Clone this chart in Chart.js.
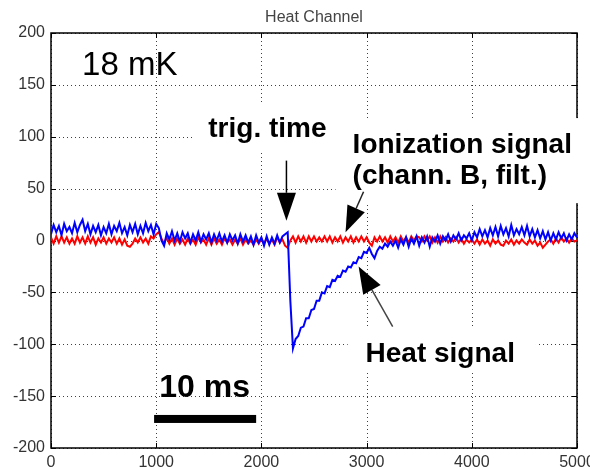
<!DOCTYPE html>
<html>
<head>
<meta charset="utf-8">
<script src="https://cdn.jsdelivr.net/npm/chart.js@4"></script>
<style>
  html, body { margin: 0; padding: 0; background: #fff; }
  #wrap { width: 590px; height: 467px; }
</style>
</head>
<body>
<div id="wrap"><canvas id="heatChart" width="590" height="467"></canvas></div>
<script>
// sampling interval of both traces (time units)
const sampleStep = 25;
const xTicks = [0, 1000, 2000, 3000, 4000, 5000];
const yTicks = [-200, -150, -100, -50, 0, 50, 100, 150, 200];

// heat channel (blue), every 25 units
const heatSignal = [
  6, 15, 8, 14, 5, 16, 9, 13, 7, 17, 8, 15, 20, 9, 16, 6, 14, 8, 15, 5,
  13, 7, 16, 6, 14, 9, 17, 7, 13, 5, 15, 8, 16, 6, 14, 7, 17, 9, 15, 6,
  16, 12, 0, -5, 7, 1, 9, 0, 7, -1, 8, 2, 7, -2, 6, 0, 8, -1, 6, 1,
  7, -2, 6, 0, 7, -1, 5, -2, 6, 0, 5, -3, 6, -1, 5, -2, 4, -4, 5, -2,
  3, -5, 4, -4, 3, -3, 5, -2, 4, 6, 8, -58, -104, -95, -92, -84, -83, -75, -75, -67,
  -66, -58, -58, -50, -51, -44, -45, -38, -39, -34, -35, -29, -30, -25, -26, -21, -22, -16, -17, -11,
  -12, -7, -13, -17, -10, -6, -8, -3, -6, -1, -5, 0, -7, 1, -4, 3, -6, 2, -3, 4,
  -5, 3, -2, 4, -6, 3, -1, 5, -3, 4, 0, 6, -1, 5, 1, 7, 0, 5, 2, 7,
  0, 8, 3, 11, 4, 10, 3, 12, 5, 13, 4, 14, 6, 12, 4, 15, 5, 11, 6, 13,
  5, 14, 4, 11, 3, 10, 2, 9, 1, 8, 0, 7, 1, 8, 2, 7, 0, 6, 1, 7,
  3
];

// ionization channel B, filtered (red)
const ionSignal = [
  3, -3, 4, -2, 4, -2, 3, -3, 2, -3, 4, -2, 3, -3, 4, -2, 3, -4, 2, -2,
  3, -3, 2, -2, 3, -3, 2, -4, 1, -5, -6, -3, 2, -2, 3, -2, 2, -3, 4, 2,
  6, 8, 2, -3, 3, -3, 2, -4, 2, -3, 1, -4, 2, -3, 1, -4, 3, -2, 1, -4,
  2, -4, 2, -3, 1, -4, 2, -2, 1, -4, 1, -3, 2, -4, 1, -3, 0, -4, 1, -3,
  2, -3, 2, -3, 1, -4, 3, -2, 1, -5, -7, 0, 4, -2, 4, -1, 4, -2, 4, -1,
  4, -1, 3, -1, 4, -1, 4, -2, 3, -1, 4, -2, 3, -1, 4, -2, 3, -1, 4, -1,
  3, -2, -5, 3, -1, 4, -1, 3, -2, 4, -1, 3, -2, 4, -1, 3, -2, 4, 0, 4,
  3, -1, 4, 0, 4, -2, 3, -2, 4, -1, 3, -2, 2, -1, 3, -2, 2, -3, 1, -2,
  1, -3, 1, -4, 1, -3, 0, -5, 1, -3, 0, -4, -5, 0, -3, 1, -4, 0, -3, 1,
  -2, -4, 1, -3, 0, -5, -2, -7, -4, -1, 1, -3, 2, -2, 3, -1, 2, -2, 2, -1,
  0
];

const FONT = "'Liberation Sans', Arial, Helvetica, sans-serif";

function toPoints(values) {
  return values.map((v, i) => ({ x: i * sampleStep, y: v }));
}

function arrow(ctx, x0, y0, x1, y1, headLen, headW, color, lw) {
  const dx = x1 - x0, dy = y1 - y0;
  const len = Math.hypot(dx, dy);
  const ux = dx / len, uy = dy / len;
  const bx = x1 - ux * headLen, by = y1 - uy * headLen;
  ctx.strokeStyle = color;
  ctx.fillStyle = '#000';
  ctx.lineWidth = lw;
  ctx.beginPath();
  ctx.moveTo(x0, y0);
  ctx.lineTo(bx, by);
  ctx.stroke();
  ctx.beginPath();
  ctx.moveTo(x1, y1);
  ctx.lineTo(bx - uy * headW / 2, by + ux * headW / 2);
  ctx.lineTo(bx + uy * headW / 2, by - ux * headW / 2);
  ctx.closePath();
  ctx.fill();
}

const overlay = {
  id: 'overlay',
  beforeDatasetsDraw(chart) {
    const { ctx, chartArea: a, scales: { x, y } } = chart;
    ctx.save();
    // dotted grid
    ctx.strokeStyle = 'rgba(0,0,0,0.75)';
    ctx.lineWidth = 1;
    ctx.setLineDash([1, 3]);
    ctx.beginPath();
    xTicks.forEach(t => {
      const px = Math.round(x.getPixelForValue(t)) + 0.5;
      ctx.moveTo(px, a.top); ctx.lineTo(px, a.bottom);
    });
    yTicks.forEach(t => {
      const py = Math.round(y.getPixelForValue(t)) + 0.5;
      ctx.moveTo(a.left, py); ctx.lineTo(a.right, py);
    });
    ctx.stroke();
    ctx.setLineDash([]);
    // frame
    ctx.strokeStyle = '#000';
    ctx.lineWidth = 1.5;
    ctx.strokeRect(a.left, a.top, a.right - a.left, a.bottom - a.top);
    // inward ticks on all four sides
    ctx.lineWidth = 1;
    ctx.beginPath();
    xTicks.forEach(t => {
      const px = Math.round(x.getPixelForValue(t)) + 0.5;
      ctx.moveTo(px, a.bottom); ctx.lineTo(px, a.bottom - 5);
      ctx.moveTo(px, a.top); ctx.lineTo(px, a.top + 5);
    });
    yTicks.forEach(t => {
      const py = Math.round(y.getPixelForValue(t)) + 0.5;
      ctx.moveTo(a.left, py); ctx.lineTo(a.left + 5, py);
      ctx.moveTo(a.right, py); ctx.lineTo(a.right - 5, py);
    });
    ctx.stroke();
    ctx.restore();
  },
  afterDatasetsDraw(chart) {
    const { ctx, scales: { x, y } } = chart;
    const X = v => x.getPixelForValue(v);
    const Y = v => y.getPixelForValue(v);
    ctx.save();

    // white backgrounds of the pasted labels
    ctx.fillStyle = '#fff';
    [[1350, 132, 2750, 87], [2705, 118, 5200, 36], [2820, -83, 4610, -125]].forEach(b => {
      ctx.fillRect(X(b[0]), Y(b[1]), X(b[2]) - X(b[0]), Y(b[3]) - Y(b[1]));
    });

    ctx.fillStyle = '#000';
    ctx.textAlign = 'left';
    ctx.textBaseline = 'alphabetic';
    ctx.font = '33px ' + FONT;
    ctx.fillText('18 mK', X(295), Y(160));

    ctx.font = 'bold 28px ' + FONT;
    ctx.fillText('trig. time', X(1495), Y(100));
    ctx.fillText('Ionization signal', X(2867), Y(84));
    ctx.fillText('(chann. B, filt.)', X(2867), Y(54));
    ctx.fillText('Heat signal', X(2990), Y(-117));

    ctx.font = 'bold 32px ' + FONT;
    ctx.fillText('10 ms', X(1029), Y(-151));

    // 10 ms scale bar
    ctx.fillRect(X(980), Y(-172) - 4, X(1950) - X(980), 8);

    arrow(ctx, X(2238), Y(77), X(2238), Y(19), 28, 19, '#000', 1.5);
    arrow(ctx, X(2971), Y(47), X(2800), Y(8), 26, 19, '#222', 1.5);
    arrow(ctx, X(3248), Y(-83), X(2924), Y(-25), 27, 20, '#444', 1.5);

    ctx.restore();
  },
  afterDraw(chart) {
    const { ctx, chartArea: a } = chart;
    ctx.save();
    ctx.fillStyle = '#444';
    ctx.font = '16px ' + FONT;
    ctx.textAlign = 'center';
    ctx.textBaseline = 'alphabetic';
    ctx.fillText('Heat Channel', (a.left + a.right) / 2, 22);
    ctx.restore();
  }
};

new Chart(document.getElementById('heatChart').getContext('2d'), {
  type: 'line',
  data: {
    datasets: [
      {
        label: 'Heat signal',
        data: toPoints(heatSignal),
        borderColor: '#0000ff',
        borderWidth: 2,
        pointRadius: 0,
        tension: 0,
        fill: false
      },
      {
        label: 'Ionization signal',
        data: toPoints(ionSignal),
        borderColor: '#ff0000',
        borderWidth: 2,
        pointRadius: 0,
        tension: 0,
        fill: false
      }
    ]
  },
  options: {
    responsive: false,
    animation: false,
    devicePixelRatio: 1,
    layout: { padding: { top: 33, right: 13, left: 0, bottom: 0 } },
    plugins: { legend: { display: false }, tooltip: { enabled: false }, title: { display: false } },
    scales: {
      x: {
        type: 'linear',
        min: 0,
        max: 5000,
        grid: { display: false, drawTicks: false },
        border: { display: false },
        ticks: { color: '#333', font: { family: FONT, size: 16 }, padding: 5, maxRotation: 0, callback: v => String(v) },
        afterBuildTicks: s => { s.ticks = xTicks.map(v => ({ value: v })); },
        afterFit: s => { s.height = 19; s.paddingLeft = 0; s.paddingRight = 0; }
      },
      y: {
        type: 'linear',
        min: -200,
        max: 200,
        grid: { display: false, drawTicks: false },
        border: { display: false },
        ticks: { color: '#333', font: { family: FONT, size: 16 }, padding: 6, callback: v => String(v) },
        afterBuildTicks: s => { s.ticks = yTicks.map(v => ({ value: v })); },
        afterFit: s => { s.width = 51; s.paddingTop = 0; s.paddingBottom = 0; }
      }
    }
  },
  plugins: [overlay]
});
</script>
</body>
</html>
